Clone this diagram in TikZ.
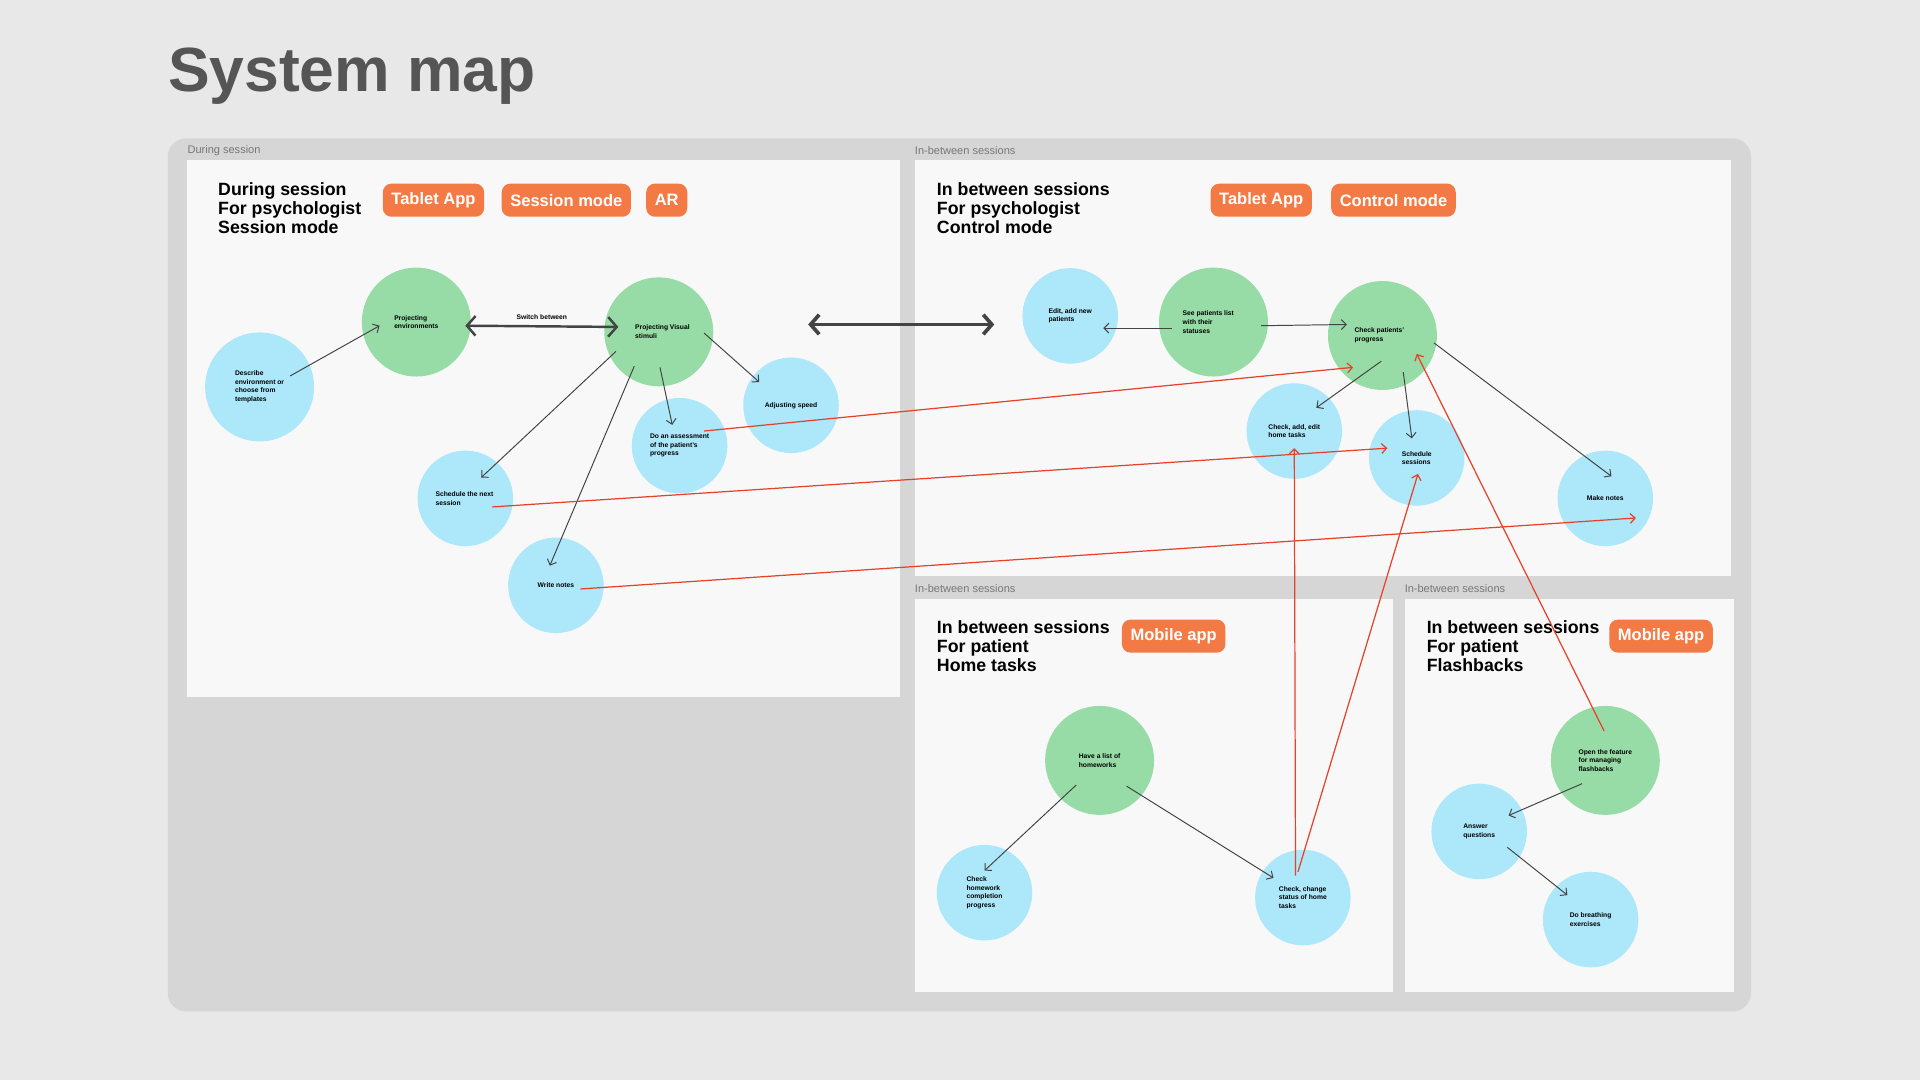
\documentclass[tikz,border=0pt]{standalone}
\usepackage{fontspec}
\setmainfont{Liberation Sans}
\usetikzlibrary{arrows.meta,calc}
\definecolor{bg}{HTML}{E8E8E8}
\definecolor{panel}{HTML}{D6D6D6}
\definecolor{card}{HTML}{F8F8F8}
\definecolor{gr}{HTML}{97DCA6}
\definecolor{bl}{HTML}{ACE7FA}
\definecolor{tagc}{HTML}{F47A45}
\definecolor{ln}{HTML}{444444}
\definecolor{rd}{HTML}{E8412A}
\definecolor{lab}{HTML}{777777}
\definecolor{ttl}{HTML}{555555}
\tikzset{
  gnode/.style={circle,fill=gr,minimum size=89pt,inner sep=0pt,align=left,font=\fontsize{5.5}{7}\selectfont\bfseries},
  bnode/.style={circle,fill=bl,minimum size=78pt,inner sep=0pt,align=left,font=\fontsize{5.5}{7}\selectfont\bfseries},
  tagbox/.style={rounded corners=7pt,fill=tagc,text=white,font=\fontsize{13.5}{14}\selectfont\bfseries,minimum height=27pt,inner xsep=7pt},
  head/.style={anchor=north west,align=left,font=\fontsize{14.5}{15.5}\selectfont\bfseries,inner sep=0pt},
  plab/.style={anchor=west,text=lab,font=\fontsize{9}{10}\selectfont,inner sep=0pt},
  con/.style={draw=ln,line width=0.8pt,-{Straight Barb[length=4pt,width=8pt]}},
  rcon/.style={draw=rd,line width=1pt,-{Straight Barb[length=4pt,width=8pt]}},
  big/.style={draw=ln,line width=3pt,{Straight Barb[length=7pt,width=16pt]}-{Straight Barb[length=7pt,width=16pt]}}
}
\begin{document}
\begin{tikzpicture}[x=1pt,y=-1pt]
\useasboundingbox (0,0) rectangle (1568,882);
\fill[bg] (0,0) rectangle (1568,882);
\node[anchor=west,text=ttl,font=\fontsize{51}{56}\selectfont\bfseries,inner sep=0pt] (title) at (137,62) {System map};
\fill[panel,rounded corners=15pt] (137,113) rectangle (1430,826);
% cards
\fill[card] (153,131) rectangle (735,569);
\fill[card] (747,131) rectangle (1414,470);
\fill[card] (747,489) rectangle (1138,810);
\fill[card] (1147,489) rectangle (1416,810);
\node[plab] (l1) at (153,123) {During session};
\node[plab] (l2) at (747,123) {In-between sessions};
\node[plab] (l3) at (747,481) {In-between sessions};
\node[plab] (l4) at (1147,481) {In-between sessions};
% headings
\node[head] (h1) at (178,149) {During session\\For psychologist\\Session mode};
\node[head] (h2) at (765,149) {In between sessions\\For psychologist\\Control mode};
\node[head] (h3) at (765,507) {In between sessions\\For patient\\Home tasks};
\node[head] (h4) at (1165,507) {In between sessions\\For patient\\Flashbacks};
% tags
\node[tagbox] (t1) at (354,163.5) {Tablet App};
\node[tagbox] (t2) at (462.5,163.5) {Session mode};
\node[tagbox] (t3) at (544.5,163.5) {AR};
\node[tagbox] (t4) at (1030,163.5) {Tablet App};
\node[tagbox] (t5) at (1138,163.5) {Control mode};
\node[tagbox] (t6) at (958.5,519.5) {Mobile app};
\node[tagbox] (t7) at (1356.5,519.5) {Mobile app};
% nodes
\node[gnode] (penv) at (340,263) {Projecting\\environments};
\node[gnode] (pvis) at (538,271) {\hspace*{6pt}Projecting Visual\\\hspace*{6pt}stimuli\hspace*{25pt}};
\node[gnode] (seep) at (991,263) {See patients list\\with their\\statuses\hspace*{28pt}};
\node[gnode] (chkp) at (1129,274) {Check patients'\\progress\hspace*{22pt}};
\node[gnode] (hw) at (898,621) {Have a list of\\homeworks};
\node[gnode] (flash) at (1311,621) {Open the feature\\for managing\\flashbacks};
\node[bnode,minimum size=89pt] (desc) at (212,316) {Describe\\environment or\\choose from\\templates};
\node[bnode] (adj) at (646,331) {Adjusting speed};
\node[bnode] (assess) at (555,364) {Do an assessment\\of the patient's\\progress};
\node[bnode] (schn) at (380,407) {Schedule the next\\session\hspace*{28pt}};
\node[bnode] (write) at (454,478) {Write notes};
\node[bnode] (edit) at (874,258) {Edit, add new\\patients};
\node[bnode] (chka) at (1057,352) {Check, add, edit\\home tasks};
\node[bnode] (schs) at (1157,374) {Schedule\\sessions};
\node[bnode] (mkn) at (1311,407) {Make notes};
\node[bnode] (chkhw) at (804,729) {Check\\homework\\completion\\progress};
\node[bnode] (chkc) at (1064,733) {Check, change\\status of home\\tasks};
\node[bnode] (ans) at (1208,679) {Answer\\questions};
\node[bnode] (brth) at (1299,751) {Do breathing\\exercises};
% black connectors
\draw[con] ($(desc)+(25,-9)$) -- ($(penv)+(-30,3)$);
\draw[big,line width=2pt] ($(penv)+(40,3)$) -- node[above=1pt,font=\fontsize{5.5}{7}\selectfont\bfseries,text=black] (sw) {Switch between} ($(pvis)+(-33,-4)$);
\draw[con] ($(pvis)+(-35,16)$) -- ($(schn)+(13,-17)$);
\draw[con] ($(pvis)+(-20,28)$) -- ($(write)+(-5,-16)$);
\draw[con] ($(pvis)+(1,29)$) -- ($(assess)+(-6,-17)$);
\draw[con] ($(pvis)+(37,1)$) -- ($(adj)+(-26,-19)$);
\draw[big] ($(pvis)+(122,-6)$) -- ($(edit)+(-62,7)$);
\draw[con] ($(seep)+(-34,5)$) -- ($(edit)+(27,10)$);
\draw[con] ($(seep)+(39,3)$) -- ($(chkp)+(-29,-9)$);
\draw[con] ($(chkp)+(-1,21)$) -- ($(chka)+(18,-19)$);
\draw[con] ($(chkp)+(17,30)$) -- ($(schs)+(-4,-16)$);
\draw[con] ($(chkp)+(42,6)$) -- ($(mkn)+(5,-18)$);
\draw[con] ($(hw)+(-19,20)$) -- ($(chkhw)+(0,-18)$);
\draw[con] ($(hw)+(22,21)$) -- ($(chkc)+(-24,-16)$);
\draw[con] ($(flash)+(-19,19)$) -- ($(ans)+(24,-13)$);
\draw[con] ($(ans)+(23,13)$) -- ($(brth)+(-19,-20)$);
% red connectors
\draw[rcon] ($(assess)+(20,-12)$) -- ($(chkp)+(-24,26)$);
\draw[rcon] ($(schn)+(22,7)$) -- ($(schs)+(-24,-8)$);
\draw[rcon] ($(write)+(20,3)$) -- ($(mkn)+(25,16)$);
\draw[rcon] ($(chkc)+(-6,-18)$) -- ($(chka)+(0,14)$);
\draw[rcon] ($(chkc)+(-4,-21)$) -- ($(schs)+(1,13)$);
\draw[rcon] ($(flash)+(-1,-24)$) -- ($(chkp)+(28,15)$);
\end{tikzpicture}
\end{document}
